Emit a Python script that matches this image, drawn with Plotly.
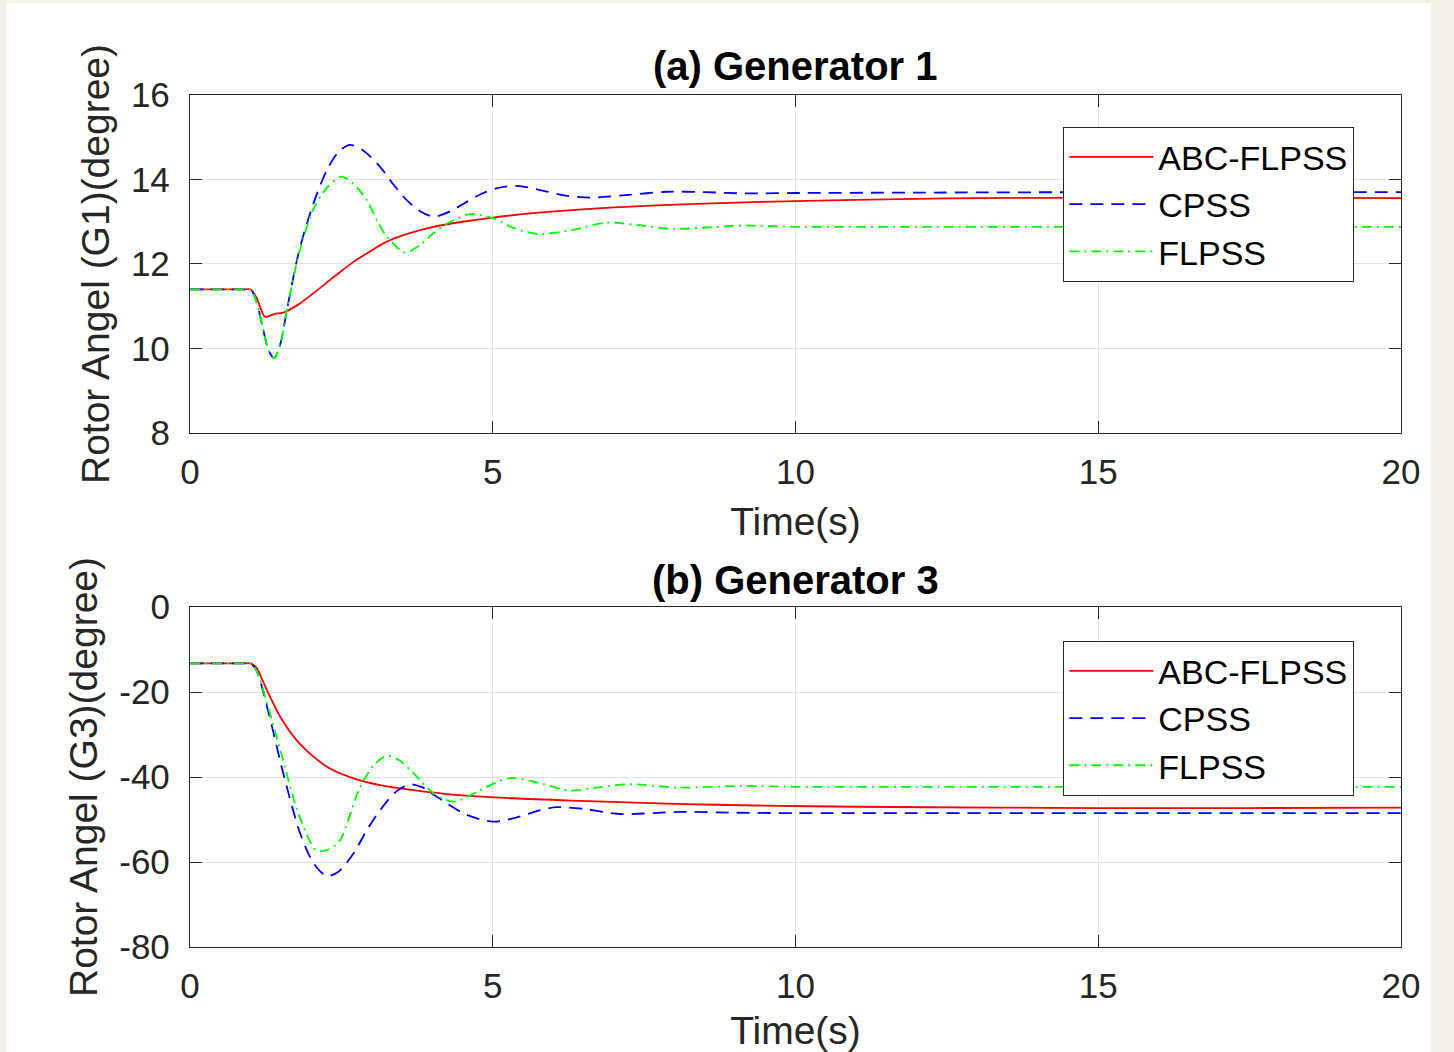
import plotly.graph_objects as go

# ---------------- data ----------------
# (a) Generator 1
t_g1_abc = [0, 0.9, 1.0, 1.1, 1.24, 1.4, 1.54, 1.8, 2.04, 2.4, 2.7, 3.0, 3.25, 3.6, 4.02, 4.5, 5.0, 5.8, 7, 8.5, 10, 12, 13, 15, 17.5, 20]
v_g1_abc = [11.4, 11.4, 11.4, 11.2, 10.75, 10.82, 10.85, 11.05, 11.31, 11.72, 12.05, 12.32, 12.53, 12.72, 12.88, 13.0, 13.10, 13.22, 13.34, 13.43, 13.49, 13.54, 13.56, 13.57, 13.57, 13.56]

t_g1_cpss = [0, 0.9, 1.0, 1.1, 1.2, 1.3, 1.39, 1.5, 1.6, 1.8, 2.04, 2.26, 2.45, 2.64, 2.85, 3.14, 3.35, 3.58, 3.8, 4.02, 4.3, 4.57, 4.8, 5.06, 5.4, 5.78, 6.2, 6.61, 7.2, 7.87, 8.5, 9.19, 10, 12, 15, 20]
v_g1_cpss = [11.4, 11.4, 11.4, 11.1, 10.5, 9.95, 9.77, 10.15, 10.91, 12.3, 13.44, 14.22, 14.65, 14.82, 14.7, 14.30, 13.9, 13.51, 13.25, 13.12, 13.25, 13.47, 13.65, 13.79, 13.85, 13.75, 13.62, 13.57, 13.63, 13.71, 13.70, 13.67, 13.68, 13.69, 13.70, 13.70]

t_g1_flpss = [0, 0.9, 1.0, 1.1, 1.2, 1.3, 1.39, 1.5, 1.6, 1.8, 2.04, 2.26, 2.5, 2.7, 2.92, 3.1, 3.25, 3.55, 3.8, 4.02, 4.3, 4.62, 5.01, 5.35, 5.75, 6.3, 6.88, 7.4, 7.98, 8.6, 9.19, 10, 12, 15, 20]
v_g1_flpss = [11.4, 11.4, 11.4, 11.1, 10.5, 9.95, 9.77, 10.15, 10.91, 12.25, 13.3, 13.8, 14.07, 13.9, 13.51, 13.0, 12.65, 12.27, 12.45, 12.73, 13.0, 13.18, 13.08, 12.85, 12.71, 12.8, 12.98, 12.92, 12.83, 12.87, 12.91, 12.88, 12.88, 12.88, 12.88]

# (b) Generator 3
t_g3_abc = [0, 0.9, 1.0, 1.1, 1.2, 1.32, 1.49, 1.76, 2.04, 2.31, 2.70, 3.14, 3.69, 4.24, 5.34, 6.44, 8.0, 9.33, 11, 13.38, 15, 17.5, 20]
v_g3_abc = [-13.25, -13.25, -13.25, -14.3, -17.3, -21.1, -25.8, -31.3, -35.2, -38.0, -40.3, -41.9, -43.1, -44.0, -45.0, -45.6, -46.3, -46.7, -47.0, -47.2, -47.3, -47.3, -47.2]

t_g3_cpss = [0, 0.9, 1.0, 1.1, 1.3, 1.54, 1.82, 2.05, 2.26, 2.45, 2.70, 2.9, 3.14, 3.4, 3.63, 3.85, 4.07, 4.57, 5.01, 5.4, 5.78, 6.05, 6.5, 7.1, 8.09, 9, 10, 12, 15, 20]
v_g3_cpss = [-13.25, -13.25, -13.25, -15, -25, -39.1, -53.3, -60.5, -63.3, -62.3, -58, -53, -47.8, -43.5, -41.7, -42.5, -44.6, -48.9, -50.5, -49.5, -47.8, -47.1, -47.5, -48.7, -48.2, -48.4, -48.5, -48.5, -48.5, -48.5]

t_g3_flpss = [0, 0.9, 1.0, 1.1, 1.3, 1.49, 1.8, 2.09, 2.3, 2.48, 2.81, 3.05, 3.25, 3.45, 3.69, 4.02, 4.35, 4.79, 5.1, 5.34, 5.8, 6.28, 6.8, 7.27, 8.09, 9.08, 10, 12, 15, 20]
v_g3_flpss = [-13.25, -13.25, -13.25, -15, -24, -33.6, -49, -57.3, -57, -54.8, -42.3, -37, -35.0, -36, -39.1, -43.8, -45.8, -43.1, -41, -40.2, -41.5, -43.2, -42.3, -41.7, -42.5, -42.1, -42.3, -42.3, -42.3, -42.3]

series_names = ["ABC-FLPSS", "CPSS", "FLPSS"]
x_ticks = [0, 5, 10, 15, 20]
x_ticktext = ["0", "5", "10", "15", "20"]
y1_ticks = [8, 10, 12, 14, 16]
y1_ticktext = ["8", "10", "12", "14", "16"]
y2_ticks = [-80, -60, -40, -20, 0]
y2_ticktext = ["-80", "-60", "-40", "-20", "0"]
titles = ["(a) Generator 1", "(b) Generator 3"]
ylabels = ["Rotor Angel (G1)(degree)", "Rotor Angel (G3)(degree)"]
xlabel = "Time(s)"

# ---------------- styling ----------------
FONT = "Liberation Sans, Arial, sans-serif"
AX = "#262626"
COLORS = ["#ff0000", "#0000ff", "#00ff00"]
DASHES = ["solid", "13px,8px", "10px,5px,2px,5px"]

fig = go.Figure()

groups = [
    ("x", "y", "legend", [(t_g1_abc, v_g1_abc), (t_g1_cpss, v_g1_cpss), (t_g1_flpss, v_g1_flpss)]),
    ("x2", "y2", "legend2", [(t_g3_abc, v_g3_abc), (t_g3_cpss, v_g3_cpss), (t_g3_flpss, v_g3_flpss)]),
]
for xa, ya, lg, data in groups:
    for (t, v), name, c, d in zip(data, series_names, COLORS, DASHES):
        fig.add_trace(go.Scatter(
            x=t, y=v, mode="lines", name=name, xaxis=xa, yaxis=ya, legend=lg,
            line=dict(color=c, width=1.8, dash=d, shape="spline", smoothing=0.8),
        ))

axis_common = dict(
    showline=True, linecolor=AX, linewidth=1.3, mirror="allticks",
    ticks="inside", ticklen=12, tickwidth=1.3, tickcolor=AX,
    showgrid=True, gridcolor="#e2e2e2", gridwidth=1, zeroline=False,
    tickfont=dict(family=FONT, size=35, color=AX), automargin=False,
)

d1 = [0.6033, 1.0]
d2 = [0.0, 0.399]

legend_common = dict(x=0.7209, xanchor="left", yanchor="top", xref="paper", yref="paper",
                     bgcolor="white", bordercolor=AX, borderwidth=1.3,
                     font=dict(family=FONT, size=34, color="black"), itemwidth=84,
                     tracegroupgap=0)

fig.update_layout(
    width=1454, height=1052,
    margin=dict(l=190, r=53, t=95, b=105),
    paper_bgcolor="#f3f0e8", plot_bgcolor="white",
    font=dict(family=FONT, color=AX),
    xaxis=dict(axis_common, domain=[0, 1], range=[0, 20], tickvals=x_ticks, ticktext=x_ticktext,
               anchor="y", ticklabelstandoff=8,
               title=dict(text=xlabel, font=dict(size=39, color=AX), standoff=17)),
    yaxis=dict(axis_common, domain=d1, range=[8, 16], tickvals=y1_ticks, ticktext=y1_ticktext,
               anchor="x", ticklabelstandoff=12,
               title=dict(text=ylabels[0], font=dict(size=39, color=AX), standoff=9)),
    xaxis2=dict(axis_common, domain=[0, 1], range=[0, 20], tickvals=x_ticks, ticktext=x_ticktext,
                anchor="y2", ticklabelstandoff=8,
                title=dict(text=xlabel, font=dict(size=39, color=AX), standoff=17)),
    yaxis2=dict(axis_common, domain=d2, range=[-80, 0], tickvals=y2_ticks, ticktext=y2_ticktext,
                anchor="x2", ticklabelstandoff=12,
                title=dict(text=ylabels[1], font=dict(size=39, color=AX), standoff=9)),
    legend=dict(legend_common, y=0.9624),
    legend2=dict(legend_common, y=0.3592),
    showlegend=True,
)

# white figure area on the beige page
fig.add_shape(type="rect", xref="paper", yref="paper", layer="below",
              x0=-0.1519, x1=1.0248, y0=-0.2, y1=1.108,
              fillcolor="white", line=dict(width=0))

# subplot titles
fig.add_annotation(text="<b>" + titles[0] + "</b>", x=0.5, y=1.034, xref="paper", yref="paper",
                   xanchor="center", yanchor="middle", showarrow=False,
                   font=dict(family=FONT, size=40, color="black"))
fig.add_annotation(text="<b>" + titles[1] + "</b>", x=0.5, y=0.4307, xref="paper", yref="paper",
                   xanchor="center", yanchor="middle", showarrow=False,
                   font=dict(family=FONT, size=40, color="black"))

fig.write_html(
    "out.html",
    config={"displayModeBar": False},
    post_script="document.body.style.margin='0px';document.body.style.backgroundColor='#f3f0e8';",
)
